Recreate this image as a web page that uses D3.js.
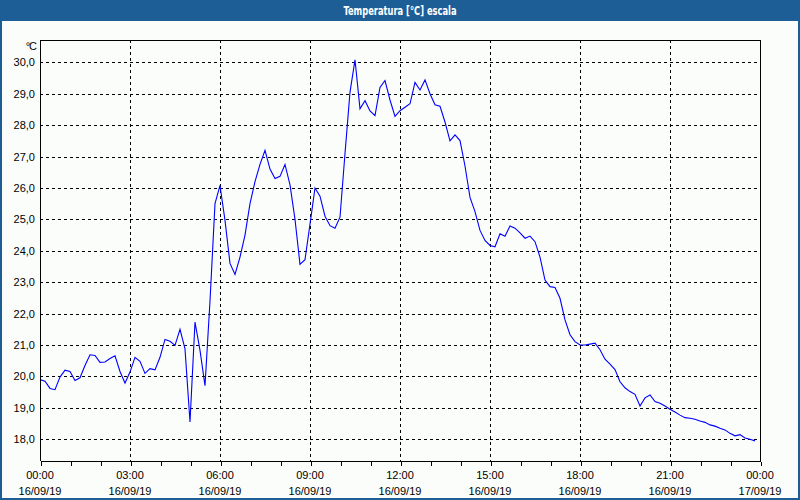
<!DOCTYPE html>
<html>
<head>
<meta charset="utf-8">
<script src="https://cdn.jsdelivr.net/npm/d3@7/dist/d3.min.js"></script>
<style>
  html, body { margin: 0; padding: 0; background: #fbfdfb; }
  svg { display: block; }
</style>
</head>
<body>
<svg id="chart" width="800" height="500"></svg>
<script>
// ---- data ----
const chartTitle = "Temperatura [°C] escala";
const unitLabel = "°C";
const startTime = "2019-09-16T00:00:00";
const endTime = "2019-09-17T00:00:00";
const stepMinutes = 10;
const temperatures = [
  19.90, 19.85, 19.62, 19.58, 19.98, 20.20, 20.16, 19.87, 19.96, 20.35,
  20.69, 20.67, 20.45, 20.46, 20.57, 20.66, 20.16, 19.79, 20.14, 20.61,
  20.48, 20.10, 20.25, 20.21, 20.61, 21.18, 21.12, 20.99, 21.50, 20.88,
  18.55, 21.73, 20.83, 19.71, 22.40, 25.50, 26.08, 24.97, 23.60, 23.25,
  23.80, 24.50, 25.50, 26.20, 26.75, 27.20, 26.60, 26.30, 26.37, 26.75,
  26.10, 25.00, 23.57, 23.72, 24.85, 26.00, 25.74, 25.10, 24.80, 24.72,
  25.07, 27.10, 29.05, 30.08, 28.52, 28.78, 28.45, 28.30, 29.20, 29.42,
  28.80, 28.28, 28.46, 28.57, 28.68, 29.36, 29.12, 29.44, 29.00, 28.65,
  28.60, 28.10, 27.50, 27.69, 27.51, 26.70, 25.70, 25.25, 24.65, 24.33,
  24.17, 24.13, 24.54, 24.46, 24.79, 24.72, 24.57, 24.40, 24.47, 24.29,
  23.80, 23.07, 22.86, 22.83, 22.49, 21.80, 21.33, 21.11, 21.00, 21.00,
  21.03, 21.06, 20.85, 20.55, 20.39, 20.22, 19.83, 19.64, 19.52, 19.43,
  19.06, 19.32, 19.41, 19.20, 19.15, 19.06, 18.96, 18.87, 18.77, 18.69,
  18.67, 18.64, 18.58, 18.54, 18.46, 18.42, 18.35, 18.30, 18.19, 18.11,
  18.15, 18.04, 18.00, 17.95
];
const yTickValues = [18, 19, 20, 21, 22, 23, 24, 25, 26, 27, 28, 29, 30];
const yDomain = [17.31, 30.71];

// ---- layout ----
const W = 800, H = 500;
const plot = { left: 40, top: 40, right: 760, bottom: 461 };

const svg = d3.select("#chart");
const parse = d3.timeParse("%Y-%m-%dT%H:%M:%S");
const t0 = parse(startTime), t1 = parse(endTime);
const data = temperatures.map((v, i) => ({ t: d3.timeMinute.offset(t0, i * stepMinutes), v }));

const x = d3.scaleTime().domain([t0, t1]).range([plot.left, plot.right]);
const y = d3.scaleLinear().domain(yDomain).range([plot.bottom, plot.top]);

const locale = d3.formatLocale({ decimal: ",", thousands: ".", grouping: [3], currency: ["", "€"] });
const yFmt = locale.format(".1f");
const fmtTime = d3.timeFormat("%H:%M");
const fmtDate = d3.timeFormat("%d/%m/%y");

// background
svg.append("rect").attr("x", 0).attr("y", 0).attr("width", W).attr("height", H).attr("fill", "#fbfdfb");

// title bar
svg.append("rect").attr("x", 0).attr("y", 0).attr("width", W).attr("height", 21).attr("fill", "#1d5e96");
svg.append("text").attr("x", W / 2).attr("y", 15)
  .attr("text-anchor", "middle")
  .attr("font-family", "'DejaVu Sans Condensed', 'DejaVu Sans', sans-serif")
  .attr("font-weight", "bold").attr("font-size", 12)
  .attr("fill", "#ffffff")
  .attr("textLength", 113).attr("lengthAdjust", "spacingAndGlyphs")
  .text(chartTitle);

// window border
svg.append("path")
  .attr("d", `M1,21V${H - 1}H${W - 1}V21`)
  .attr("fill", "none").attr("stroke", "#1d5e96").attr("stroke-width", 2);

const font = "'Liberation Sans', Arial, sans-serif";

// horizontal grid
const gridG = svg.append("g").attr("shape-rendering", "crispEdges");
gridG.selectAll("line.h").data(yTickValues).join("line")
  .attr("class", "h")
  .attr("x1", plot.left).attr("x2", plot.right)
  .attr("y1", d => Math.round(y(d)) + 0.5).attr("y2", d => Math.round(y(d)) + 0.5)
  .attr("stroke", "#000").attr("stroke-width", 1).attr("stroke-dasharray", "3,3");

// vertical grid (every 3 h)
const majorTicks = x.ticks(d3.timeHour.every(3));
gridG.selectAll("line.v").data(majorTicks.filter(d => +d > +t0 && +d < +t1)).join("line")
  .attr("class", "v")
  .attr("y1", plot.top).attr("y2", plot.bottom)
  .attr("x1", d => Math.round(x(d)) + 0.5).attr("x2", d => Math.round(x(d)) + 0.5)
  .attr("stroke", "#000").attr("stroke-width", 1).attr("stroke-dasharray", "3,3");

// temperature line
const line = d3.line().x(d => x(d.t)).y(d => y(d.v));
svg.append("path").datum(data)
  .attr("d", line)
  .attr("fill", "none").attr("stroke", "#0000ff").attr("stroke-width", 1.1);

// plot frame (left, top, right)
svg.append("path")
  .attr("d", `M${plot.left + 0.5},${plot.bottom}V${plot.top + 0.5}H${plot.right + 0.5}V${plot.bottom}`)
  .attr("fill", "none").attr("stroke", "#000").attr("stroke-width", 1)
  .attr("shape-rendering", "crispEdges");

// bottom axis
const xAxis = d3.axisBottom(x)
  .ticks(d3.timeHour.every(1))
  .tickSize(4)
  .tickFormat("");
const axG = svg.append("g").attr("transform", `translate(0.5,${plot.bottom + 0.5})`).call(xAxis);
axG.select(".domain").attr("stroke", "#000").attr("d", `M${plot.left},0H${plot.right}`).attr("shape-rendering", "crispEdges");
axG.selectAll(".tick line").attr("stroke", "#000").attr("shape-rendering", "crispEdges");

// x labels
const xl = svg.append("g").attr("font-family", font).attr("font-size", 11).attr("fill", "#000").attr("text-anchor", "middle");
majorTicks.forEach(d => {
  xl.append("text").attr("x", x(d)).attr("y", 479).text(fmtTime(d));
  xl.append("text").attr("x", x(d)).attr("y", 495).text(fmtDate(d));
});

// y labels
const yl = svg.append("g").attr("font-family", font).attr("font-size", 11).attr("fill", "#000").attr("text-anchor", "end");
yTickValues.forEach(v => {
  yl.append("text").attr("x", 35).attr("y", y(v) + 4).text(yFmt(v));
});
yl.append("text").attr("x", 36).attr("y", 50).attr("letter-spacing", -1).text(unitLabel);
</script>
</body>
</html>
